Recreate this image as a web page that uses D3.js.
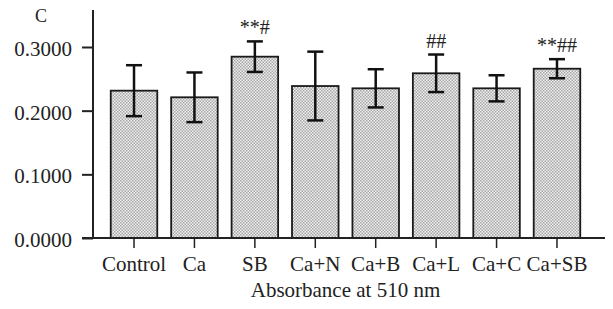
<!DOCTYPE html>
<html>
<head>
<meta charset="utf-8">
<script src="https://cdn.jsdelivr.net/npm/d3@7"></script>
<style>
  body { margin: 0; background: #fff; }
  svg text { font-family: "Liberation Serif", "Times New Roman", Times, serif; fill: #222; }
</style>
</head>
<body>
<div id="chart"></div>
<script>
const groups = ["Control", "Ca", "SB", "Ca+N", "Ca+B", "Ca+L", "Ca+C", "Ca+SB"];
const means = [0.2314, 0.2210, 0.2848, 0.2387, 0.2351, 0.2587, 0.2351, 0.2659];
const errors = [0.0400, 0.0390, 0.0240, 0.0540, 0.0300, 0.0295, 0.0205, 0.0150];
const marks = ["", "", "**#", "", "", "##", "", "**##"];
const yTicks = [0, 0.1, 0.2, 0.3];

const width = 613, height = 309;
const serif = "'Liberation Serif', 'Times New Roman', Times, serif";

const svg = d3.select("#chart").append("svg")
    .attr("width", width)
    .attr("height", height)
    .attr("font-family", serif);

// dotted fill like the print screen
const pat = svg.append("defs").append("pattern")
    .attr("id", "dots")
    .attr("width", 3).attr("height", 3)
    .attr("patternUnits", "userSpaceOnUse");
pat.append("rect").attr("width", 3).attr("height", 3).attr("fill", "#f0f0f0");
pat.append("rect").attr("x", 0).attr("y", 0).attr("width", 1.5).attr("height", 1.5).attr("fill", "#a6a6a6");
pat.append("rect").attr("x", 1.5).attr("y", 1.5).attr("width", 1.5).attr("height", 1.5).attr("fill", "#a6a6a6");

const x = d3.scaleBand().domain(groups).range([103.8, 587.2]).paddingInner(0.23).paddingOuter(0.115);
const y = d3.scaleLinear().domain([0, 0.3]).range([238, 47]);

// bars
svg.append("g")
    .selectAll("rect")
    .data(groups)
    .join("rect")
    .attr("x", d => x(d))
    .attr("y", (d, i) => y(means[i]))
    .attr("width", x.bandwidth())
    .attr("height", (d, i) => y(0) - y(means[i]))
    .attr("fill", "url(#dots)")
    .attr("stroke", "#1a1a1a")
    .attr("stroke-width", 1.8);

// error bars
const eb = svg.append("g").attr("stroke", "#111").attr("stroke-width", 2.5);
groups.forEach((g, i) => {
    const cx = x(g) + x.bandwidth() / 2;
    const top = y(means[i] + errors[i]);
    const bot = y(means[i] - errors[i]);
    eb.append("line").attr("x1", cx).attr("x2", cx).attr("y1", top).attr("y2", bot);
    eb.append("line").attr("x1", cx - 8).attr("x2", cx + 8).attr("y1", top).attr("y2", top);
    eb.append("line").attr("x1", cx - 8).attr("x2", cx + 8).attr("y1", bot).attr("y2", bot);
});

// significance marks
svg.append("g")
    .selectAll("text")
    .data(groups)
    .join("text")
    .attr("x", d => x(d) + x.bandwidth() / 2)
    .attr("y", (d, i) => y(means[i] + errors[i]) - 7)
    .attr("text-anchor", "middle")
    .attr("font-size", 20)
    .attr("fill", "#555")
    .text((d, i) => marks[i]);

// y axis
const yAxis = svg.append("g")
    .attr("transform", "translate(93,0)")
    .call(d3.axisLeft(y).tickValues(yTicks).tickFormat(d3.format(".4f")).tickSize(11).tickPadding(10));
yAxis.attr("font-family", serif);
yAxis.select(".domain").remove();
yAxis.selectAll("line").attr("stroke", "#222").attr("stroke-width", 2);
yAxis.selectAll("text").attr("font-size", 21).attr("dy", "0.4em").attr("fill", "#222");
svg.append("line")
    .attr("x1", 93).attr("x2", 93).attr("y1", y(0)).attr("y2", 10)
    .attr("stroke", "#222").attr("stroke-width", 2);

// x axis
const xAxis = svg.append("g")
    .attr("transform", `translate(0,${y(0)})`)
    .call(d3.axisBottom(x).tickSize(10).tickPadding(8));
xAxis.attr("font-family", serif);
xAxis.select(".domain").remove();
xAxis.selectAll("line").attr("stroke", "#222").attr("stroke-width", 1.5);
xAxis.selectAll("text").attr("font-size", 21).attr("fill", "#222");
svg.append("line")
    .attr("x1", 82).attr("x2", 605).attr("y1", y(0)).attr("y2", y(0))
    .attr("stroke", "#222").attr("stroke-width", 2);

// titles
svg.append("text")
    .attr("x", (x.range()[0] + x.range()[1]) / 2)
    .attr("y", 297)
    .attr("text-anchor", "middle")
    .attr("font-size", 21)
    .text("Absorbance at 510 nm");

svg.append("text")
    .attr("x", 35)
    .attr("y", 22)
    .attr("font-size", 18)
    .text("C");
</script>
</body>
</html>
